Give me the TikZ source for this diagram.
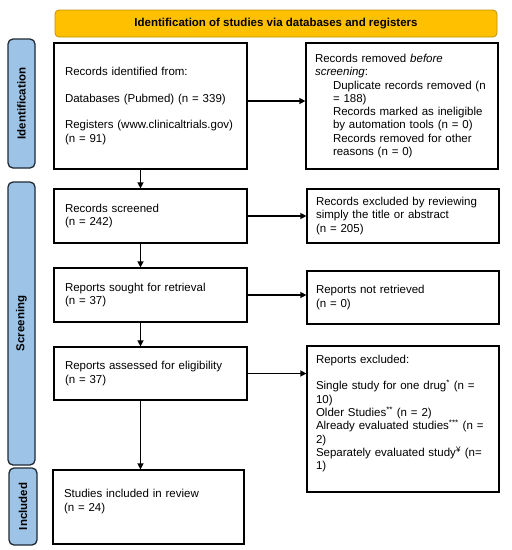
\documentclass[tikz,border=0pt]{standalone}
\usepackage{fontspec}
\setmainfont{Liberation Sans}
\usetikzlibrary{arrows.meta}
\definecolor{bannerfill}{HTML}{FFC000}
\definecolor{bannerline}{HTML}{BF9000}
\definecolor{labelfill}{HTML}{9DC3E6}
\definecolor{labelline}{HTML}{1F2A33}
\begin{document}
\begin{tikzpicture}[x=1pt,y=-1pt,
  every node/.style={font=\fontsize{11.5}{13.3}\selectfont},
  box/.style={draw=black, line width=1.2pt, align=left, inner xsep=11pt, inner ysep=0pt, anchor=center},
  rbox/.style={box, inner xsep=9pt, text width=174pt},
  banner/.style={draw=bannerline, line width=0.8pt, fill=bannerfill, rounded corners=4pt, font=\fontsize{11.5}{13.3}\selectfont\bfseries, inner sep=0pt},
  phase/.style={draw=labelline, line width=1.3pt, fill=labelfill, rounded corners=5pt, rotate=90, font=\fontsize{11.5}{13.3}\selectfont\bfseries, inner sep=0pt},
  arr/.style={line width=1.3pt, -{Triangle[length=6pt,width=6pt]}}
]
\useasboundingbox (0,0) rectangle (512,550);
\node[banner, minimum width=442pt, minimum height=27pt] (ban) at (276,23.5) {Identification of studies via databases and registers};
\node[phase, minimum width=129pt, minimum height=27pt] (pid) at (21.5,103.5) {Identification};
\node[phase, minimum width=283pt, minimum height=27pt] (psc) at (21.5,323.5) {Screening};
\node[phase, minimum width=77pt, minimum height=28pt] (pin) at (23,506.5) {Included};

\node[box, text width=171pt, minimum height=126pt] (b1) at (150.5,106) {Records identified from:\\[13.3pt]Databases (Pubmed) (n = 339)\\[13.3pt]Registers (www.clinicaltrials.gov)\\(n = 91)};
\node[rbox, minimum height=126pt] (b2) at (402,106) {Records removed \emph{before}\\\emph{screening}:\\\hspace*{18pt}Duplicate records removed (n\\\hspace*{18pt}= 188)\\\hspace*{18pt}Records marked as ineligible\\\hspace*{18pt}by automation tools (n = 0)\\\hspace*{18pt}Records removed for other\\\hspace*{18pt}reasons (n = 0)};
\node[box, text width=171pt, minimum height=54pt] (b3) at (150.5,216) {Records screened\\(n = 242)};
\node[rbox, minimum height=54pt] (b4) at (403,216) {Records excluded by reviewing\\simply the title or abstract\\(n = 205)};
\node[box, text width=171pt, minimum height=54pt] (b5) at (150.5,295) {Reports sought for retrieval\\(n = 37)};
\node[rbox, minimum height=53pt] (b6) at (403,297.5) {Reports not retrieved\\(n = 0)};
\node[box, text width=171pt, minimum height=53pt] (b7) at (150.5,373.5) {Reports assessed for eligibility\\(n = 37)};
\node[rbox, minimum height=146pt] (b8) at (403,419) {Reports excluded:\\[13.3pt]Single study for one drug\textsuperscript{*} (n =\\10)\\Older Studies\textsuperscript{**} (n = 2)\\Already evaluated studies\textsuperscript{***} (n =\\2)\\Separately evaluated study\textsuperscript{¥} (n=\\1)\\\mbox{}};
\node[box, text width=169pt, minimum height=74pt] (b9) at (148.5,507) {Studies included in review\\(n = 24)\\\mbox{}};

\draw[arr] ([yshift=5pt]b1.east) -- ([yshift=5pt]b1.east -| b2.west);
\draw[arr] (b3.east) -- (b3.east -| b4.west);
\draw[arr] (b5.east) -- (b5.east -| b6.west);
\draw[arr] (b7.east) -- (b7.east -| b8.west);
\draw[arr] ([xshift=-10pt]b1.south) -- ([xshift=-10pt]b1.south |- b3.north);
\draw[arr] ([xshift=-10pt]b3.south) -- ([xshift=-10pt]b3.south |- b5.north);
\draw[arr] ([xshift=-10pt]b5.south) -- ([xshift=-10pt]b5.south |- b7.north);
\draw[arr] ([xshift=-10pt]b7.south) -- ([xshift=-10pt]b7.south |- b9.north);
\end{tikzpicture}
\end{document}
